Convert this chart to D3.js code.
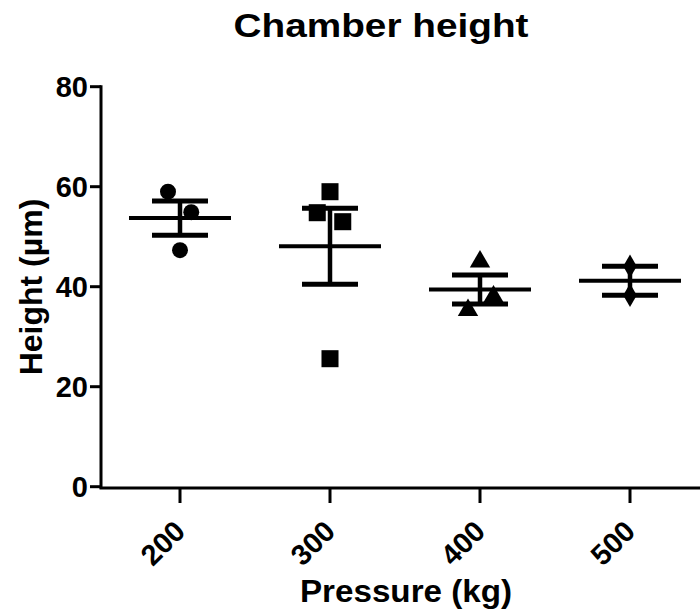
<!DOCTYPE html>
<html>
<head>
<meta charset="utf-8">
<script src="https://cdn.jsdelivr.net/npm/d3@7"></script>
<style>
  html, body { margin: 0; padding: 0; background: #fff; }
  svg { display: block; }
  text { font-family: "Liberation Sans", Arial, sans-serif; font-weight: bold; fill: #000; }
</style>
</head>
<body>
<svg id="chart" width="700" height="610"></svg>
<script>
// ---- data ----
const categories = ["200", "300", "400", "500"];
const values200 = [59.0, 54.9, 47.3];
const values300 = [59.0, 54.8, 53.0, 25.6];
const values400 = [45.0, 38.0, 35.3];
const values500 = [44.1, 38.3];
// horizontal scatter (fraction of category step) as seen in the reference
const jitter200 = [-0.08, 0.075, 0];
const jitter300 = [0, -0.085, 0.085, 0];
const jitter400 = [0, 0.09, -0.08];
const jitter500 = [0, 0];
const yTicks = [0, 20, 40, 60, 80];
const symbols = ["circle", "square", "triangle", "diamond"];

const groups = [
  { cat: categories[0], vals: values200, jit: jitter200, sym: symbols[0] },
  { cat: categories[1], vals: values300, jit: jitter300, sym: symbols[1] },
  { cat: categories[2], vals: values400, jit: jitter400, sym: symbols[2] },
  { cat: categories[3], vals: values500, jit: jitter500, sym: symbols[3] }
];

const svg = d3.select("#chart");

const axisX0 = 101, axisY0 = 487;
const x = d3.scalePoint().domain(categories).range([180, 630]);
const step = x.step();
const y = d3.scaleLinear().domain([0, 80]).range([486.7, 86.7]);

// ---- title ----
svg.append("text")
  .attr("x", 381).attr("y", 37)
  .attr("text-anchor", "middle")
  .attr("font-size", 34)
  .attr("textLength", 295).attr("lengthAdjust", "spacingAndGlyphs")
  .text("Chamber height");

// ---- y axis ----
const gy = svg.append("g");
gy.append("line")
  .attr("x1", axisX0).attr("x2", axisX0)
  .attr("y1", y(80) - 1.5).attr("y2", axisY0 + 1.5)
  .attr("stroke", "#000").attr("stroke-width", 3);
gy.selectAll(".yt").data(yTicks).enter().append("line")
  .attr("x1", axisX0 - 11).attr("x2", axisX0)
  .attr("y1", d => y(d)).attr("y2", d => y(d))
  .attr("stroke", "#000").attr("stroke-width", 3);
gy.selectAll(".yl").data(yTicks).enter().append("text")
  .attr("x", 88).attr("y", d => y(d) + 10.5)
  .attr("text-anchor", "end")
  .attr("font-size", 29)
  .text(d => d);

svg.append("text")
  .attr("transform", "translate(42,287) rotate(-90)")
  .attr("text-anchor", "middle")
  .attr("font-size", 32)
  .text("Height (µm)");

// ---- x axis ----
const gx = svg.append("g");
gx.append("line")
  .attr("x1", axisX0 - 1.5).attr("x2", 700)
  .attr("y1", axisY0 + 1).attr("y2", axisY0 + 1)
  .attr("stroke", "#000").attr("stroke-width", 3);
gx.selectAll(".xt").data(categories).enter().append("line")
  .attr("x1", d => x(d)).attr("x2", d => x(d))
  .attr("y1", axisY0 + 1).attr("y2", axisY0 + 16)
  .attr("stroke", "#000").attr("stroke-width", 3);
gx.selectAll(".xl").data(categories).enter().append("text")
  .attr("transform", d => `translate(${x(d) + 7},${axisY0 + 46}) rotate(-45)`)
  .attr("text-anchor", "end")
  .attr("font-size", 29)
  .text(d => d);

svg.append("text")
  .attr("x", 406).attr("y", 602)
  .attr("text-anchor", "middle")
  .attr("font-size", 31)
  .attr("textLength", 212).attr("lengthAdjust", "spacingAndGlyphs")
  .text("Pressure (kg)");

// ---- markers ----
const symType = { circle: d3.symbolCircle, square: d3.symbolSquare, triangle: d3.symbolTriangle, diamond: d3.symbolDiamond };
const symSize = { circle: 200, square: 290, triangle: 180, diamond: 160 };

const gm = svg.append("g");
groups.forEach(g => {
  const pts = g.vals.map((v, i) => ({ v, j: g.jit[i] }));
  gm.selectAll(null).data(pts).enter().append("path")
    .attr("d", d3.symbol().type(symType[g.sym]).size(symSize[g.sym]))
    .attr("transform", d => `translate(${x(g.cat) + d.j * step},${y(d.v)})`)
    .attr("fill", "#000");
});

// ---- mean and SEM ----
const ge = svg.append("g");
groups.forEach(g => {
  const m = d3.mean(g.vals);
  const sem = d3.deviation(g.vals) / Math.sqrt(g.vals.length);
  const cx = x(g.cat);
  ge.append("line")
    .attr("x1", cx - 51).attr("x2", cx + 51)
    .attr("y1", y(m)).attr("y2", y(m))
    .attr("stroke", "#000").attr("stroke-width", 4);
  ge.append("line")
    .attr("x1", cx).attr("x2", cx)
    .attr("y1", y(m + sem)).attr("y2", y(m - sem))
    .attr("stroke", "#000").attr("stroke-width", 4.5);
  [m + sem, m - sem].forEach(c => {
    ge.append("line")
      .attr("x1", cx - 28).attr("x2", cx + 28)
      .attr("y1", y(c)).attr("y2", y(c))
      .attr("stroke", "#000").attr("stroke-width", 5);
  });
});
</script>
</body>
</html>
